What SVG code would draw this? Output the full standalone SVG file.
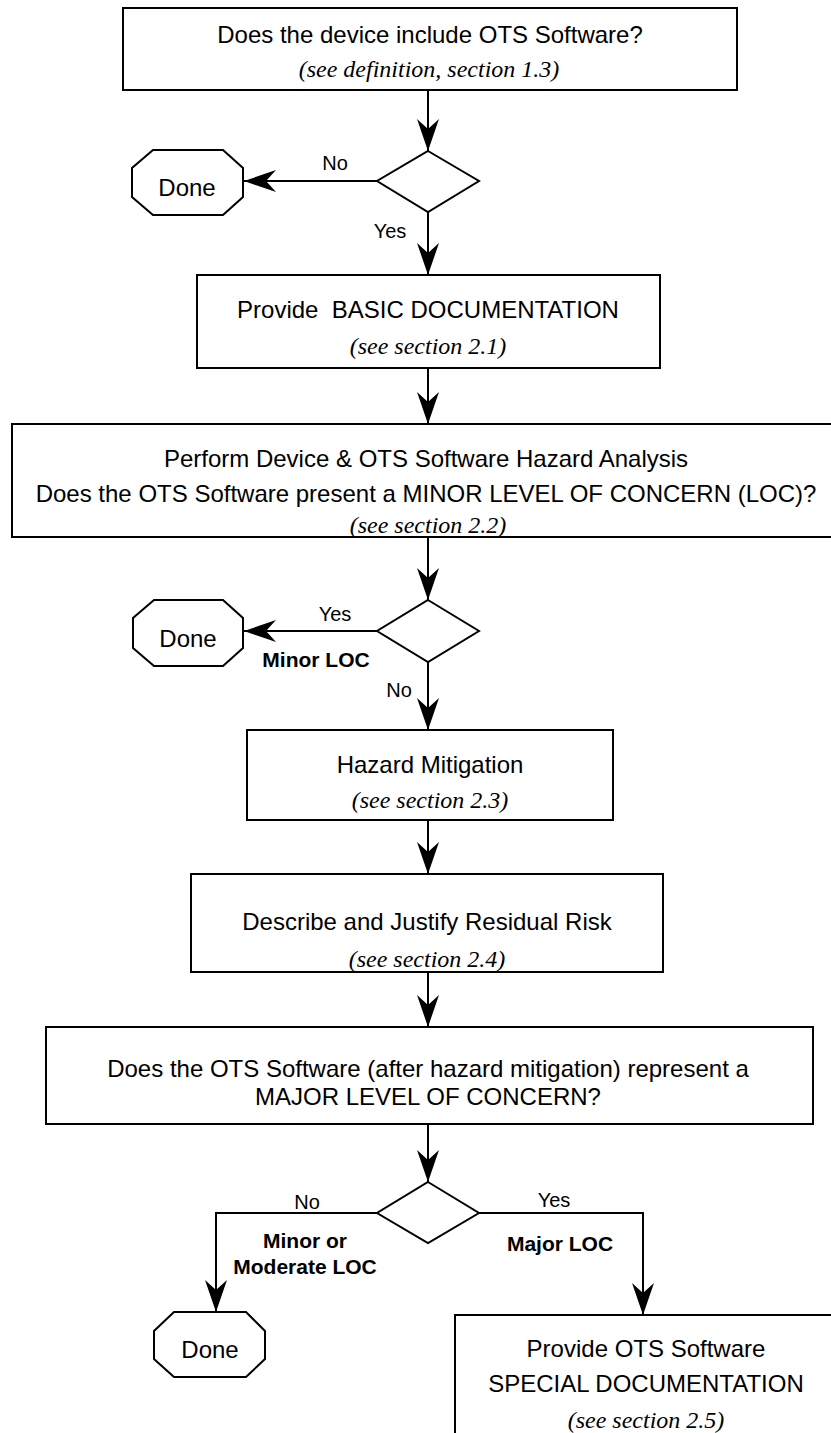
<svg xmlns="http://www.w3.org/2000/svg" width="831" height="1433" viewBox="0 0 831 1433">
<style>
.box{fill:#fff;stroke:#000;stroke-width:2}
.t{font-family:"Liberation Sans",Arial,sans-serif;font-size:24px;fill:#000;text-anchor:middle}
.i{font-family:"Liberation Serif","Times New Roman",serif;font-size:24px;font-style:italic;fill:#000;text-anchor:middle}
.l{font-family:"Liberation Sans",Arial,sans-serif;font-size:20px;fill:#000;text-anchor:middle}
.b{font-family:"Liberation Sans",Arial,sans-serif;font-size:21px;font-weight:bold;fill:#000;text-anchor:middle}
.c{fill:none;stroke:#000;stroke-width:2;marker-end:url(#ah)}
</style>
<defs>
<marker id="ah" markerUnits="userSpaceOnUse" markerWidth="32" markerHeight="22" refX="32" refY="11" orient="auto" overflow="visible">
<path d="M32,11 L0,0 L10,11 L0,22 Z" fill="#000"/>
</marker>
</defs>
<rect width="831" height="1433" fill="#fff"/>
<g id="connectors">
<path class="c" d="M428,90 V151"/>
<path class="c" d="M377,181 H244"/>
<path class="c" d="M428,212 V275"/>
<path class="c" d="M428,360 V424"/>
<path class="c" d="M428,537 V600"/>
<path class="c" d="M377,631 H244"/>
<path class="c" d="M428,662 V730"/>
<path class="c" d="M428,820 V874"/>
<path class="c" d="M428,960 V1027"/>
<path class="c" d="M428,1124 V1182"/>
<path class="c" d="M377,1213 H216 V1312"/>
<path class="c" d="M479,1213 H643 V1315"/>
</g>
<g id="q1">
<rect class="box" x="123" y="8" width="614" height="82"/>
<text class="t" x="430" y="43">Does the device include OTS Software?</text>
<text class="i" x="429" y="77">(see definition, section 1.3)</text>
</g>
<g id="d1">
<polygon class="box" points="428,151 479,181 428,212 377,181"/>
<text class="l" x="335" y="170">No</text>
<text class="l" x="390" y="238">Yes</text>
</g>
<g id="done1">
<polygon class="box" points="153,150 223,150 243,168 243,197 223,215 153,215 132,197 132,168"/>
<text class="t" x="187" y="196">Done</text>
</g>
<g id="basic">
<rect class="box" x="197" y="275" width="463" height="93"/>
<text class="t" x="428" y="318" style="white-space:pre">Provide  BASIC DOCUMENTATION</text>
<text class="i" x="428" y="354">(see section 2.1)</text>
</g>
<g id="hazard">
<rect class="box" x="12" y="424" width="832" height="113"/>
<text class="t" x="426" y="467">Perform Device &amp; OTS Software Hazard Analysis</text>
<text class="t" x="426" y="502">Does the OTS Software present a MINOR LEVEL OF CONCERN (LOC)?</text>
<text class="i" x="428" y="533">(see section 2.2)</text>
</g>
<g id="d2">
<polygon class="box" points="428,600 479,631 428,662 377,631"/>
<text class="l" x="335" y="621">Yes</text>
<text class="b" x="316" y="667">Minor LOC</text>
<text class="l" x="399" y="697">No</text>
</g>
<g id="done2">
<polygon class="box" points="154,600 223,600 243,618 243,648 223,666 154,666 133,648 133,618"/>
<text class="t" x="188" y="647">Done</text>
</g>
<g id="mitigation">
<rect class="box" x="247" y="730" width="366" height="90"/>
<text class="t" x="430" y="773">Hazard Mitigation</text>
<text class="i" x="430" y="808">(see section 2.3)</text>
</g>
<g id="residual">
<rect class="box" x="191" y="874" width="472" height="98"/>
<text class="t" x="427" y="930">Describe and Justify Residual Risk</text>
<text class="i" x="427" y="967">(see section 2.4)</text>
</g>
<g id="major">
<rect class="box" x="46" y="1027" width="767" height="97"/>
<text class="t" x="428" y="1077">Does the OTS Software (after hazard mitigation) represent a</text>
<text class="t" x="428" y="1105">MAJOR LEVEL OF CONCERN?</text>
</g>
<g id="d3">
<polygon class="box" points="428,1182 479,1213 428,1243 377,1213"/>
<text class="l" x="307" y="1209">No</text>
<text class="b" x="305" y="1248">Minor or</text>
<text class="b" x="305" y="1274">Moderate LOC</text>
<text class="l" x="554" y="1207">Yes</text>
<text class="b" x="560" y="1251">Major LOC</text>
</g>
<g id="done3">
<polygon class="box" points="174,1312 246,1312 265,1331 265,1359 246,1377 174,1377 154,1359 154,1331"/>
<text class="t" x="210" y="1358">Done</text>
</g>
<g id="special">
<rect class="box" x="455" y="1315" width="382" height="130"/>
<text class="t" x="646" y="1357">Provide OTS Software</text>
<text class="t" x="646" y="1392">SPECIAL DOCUMENTATION</text>
<text class="i" x="646" y="1428">(see section 2.5)</text>
</g>
</svg>
